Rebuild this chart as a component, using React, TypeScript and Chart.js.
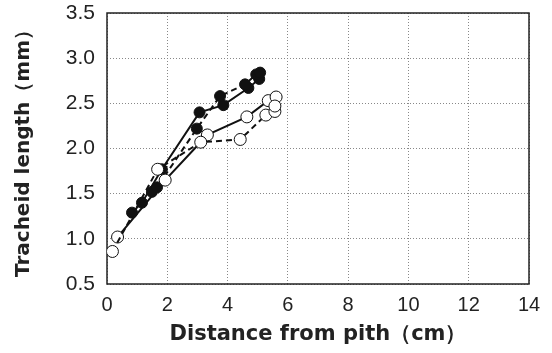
import React, { useEffect, useRef } from "react";
import { Chart, registerables } from "chart.js";

Chart.register(...registerables);

const filledSolidX = [0.83, 1.16, 1.82, 3.07, 3.86, 4.69, 5.05];
const filledSolidY = [1.29, 1.4, 1.77, 2.4, 2.48, 2.67, 2.77];
const filledDashX = [1.49, 1.66, 2.98, 3.75, 4.58, 4.95, 5.08];
const filledDashY = [1.52, 1.57, 2.22, 2.58, 2.71, 2.82, 2.84];
const openSolidX = [0.35, 1.93, 3.33, 4.64, 5.35, 5.61];
const openSolidY = [1.02, 1.65, 2.15, 2.35, 2.53, 2.57];
const openDashX = [0.18, 1.68, 3.11, 4.42, 5.27, 5.57, 5.57];
const openDashY = [0.86, 1.77, 2.07, 2.1, 2.37, 2.41, 2.47];

const xTitle = "Distance from pith（cm）";
const yTitle = "Tracheid length（mm）";

const pts = (xs: number[], ys: number[]) => xs.map((x, i) => ({ x, y: ys[i] }));

export default function App() {
  const ref = useRef<HTMLCanvasElement | null>(null);
  useEffect(() => {
    if (!ref.current) return;
    const font = "'Liberation Sans', Arial, sans-serif";
    const titleFont = "'DejaVu Sans', sans-serif";
    const mk = (xs: number[], ys: number[], filled: boolean, dashed: boolean) => ({
      data: pts(xs, ys),
      showLine: true,
      borderColor: "#111",
      borderWidth: 2,
      borderDash: dashed ? [6, 4] : [],
      pointRadius: filled ? 5.5 : 6,
      pointBackgroundColor: filled ? "#111" : "#fff",
      pointBorderColor: "#111",
      pointBorderWidth: 1,
      backgroundColor: filled ? "#111" : "#fff",
      fill: false,
      tension: 0,
    });
    const chart = new Chart(ref.current, {
      type: "scatter",
      data: {
        datasets: [
          mk(openDashX, openDashY, false, true),
          mk(openSolidX, openSolidY, false, false),
          mk(filledDashX, filledDashY, true, true),
          mk(filledSolidX, filledSolidY, true, false),
        ],
      },
      options: {
        responsive: false,
        animation: false,
        layout: { padding: { left: 0, top: 13, right: 23, bottom: 0 } },
        plugins: { legend: { display: false }, tooltip: { enabled: false } },
        scales: {
          x: {
            type: "linear",
            min: 0,
            max: 14,
            afterFit: (s: any) => {
              s.height = 69;
              s.paddingLeft = 0;
              s.paddingRight = 0;
            },
            ticks: { stepSize: 2, color: "#222", font: { family: font, size: 20 }, padding: 9 },
            grid: { color: "#888", lineWidth: 1, drawTicks: false },
            border: { display: false, dash: [1, 2] },
            title: {
              display: true,
              text: xTitle,
              color: "#222",
              font: { family: titleFont, size: 21, weight: "bold" },
              padding: { top: 0, bottom: 6 },
            },
          },
          y: {
            type: "linear",
            min: 0.5,
            max: 3.5,
            afterFit: (s: any) => {
              s.width = 107;
              s.paddingTop = 0;
              s.paddingBottom = 0;
            },
            ticks: {
              stepSize: 0.5,
              color: "#222",
              font: { family: font, size: 21 },
              padding: 12,
              callback: (v: any) => Number(v).toFixed(1),
            },
            grid: { color: "#888", lineWidth: 1, drawTicks: false },
            border: { display: false, dash: [1, 2] },
            title: {
              display: true,
              text: yTitle,
              color: "#222",
              font: { family: titleFont, size: 20, weight: "bold" },
              padding: { top: 12, bottom: 0 },
            },
          },
        },
      },
      plugins: [
        {
          id: "frame",
          beforeDatasetsDraw(c: any) {
            const { ctx, chartArea: a } = c;
            ctx.save();
            ctx.strokeStyle = "#222";
            ctx.lineWidth = 1.5;
            ctx.setLineDash([]);
            ctx.strokeRect(a.left, a.top, a.right - a.left, a.bottom - a.top);
            ctx.restore();
          },
        },
      ],
    } as any);
    return () => chart.destroy();
  }, []);
  return (
    <div style={{ position: "fixed", left: 0, top: 0, width: 552, height: 353, background: "#fff" }}>
      <canvas ref={ref} width={552} height={353} style={{ width: 552, height: 353 }} />
    </div>
  );
}
